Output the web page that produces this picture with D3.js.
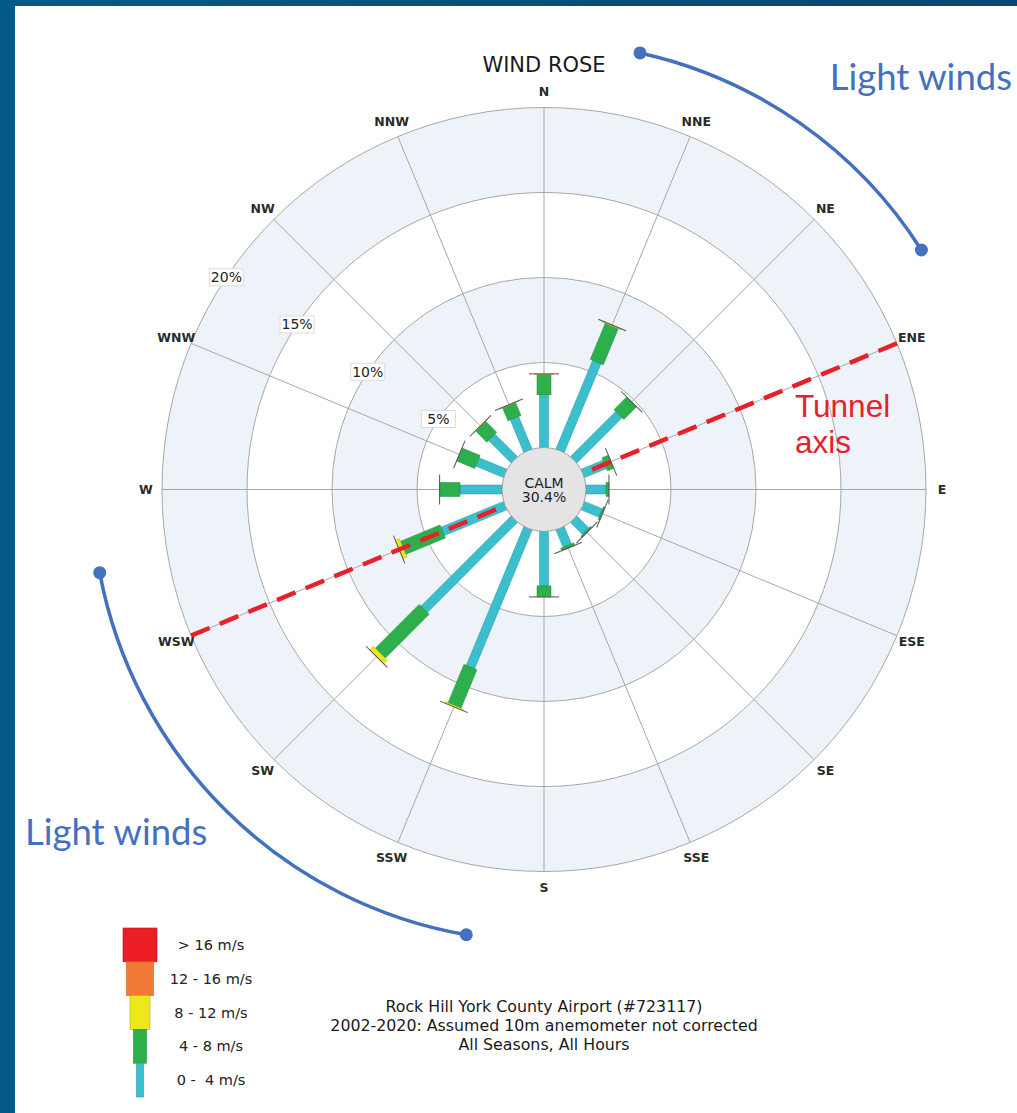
<!DOCTYPE html>
<html>
<head>
<meta charset="utf-8">
<script src="https://cdn.jsdelivr.net/npm/d3@7"></script>
<style>
  html, body { margin: 0; padding: 0; background: #ffffff; }
  svg { display: block; }
  text { font-family: "DejaVu Sans", Verdana, sans-serif; }
</style>
</head>
<body>
<svg id="chart" width="1017" height="1113"></svg>
<script>
// Compass sectors (clockwise from north)
const directions = ["N","NNE","NE","ENE","E","ESE","SE","SSE","S","SSW","SW","WSW","W","WNW","NW","NNW"];

// Frequency (% of hours) per speed class, one value per direction
const speed0to4   = [3.10, 5.65, 3.76, 1.40, 1.18, 1.15, 1.00, 1.10, 3.20, 8.84, 7.50, 3.98, 2.47, 1.77, 1.88, 2.07];
const speed4to8   = [1.20, 2.30, 1.06, 0.40, 0.17, 0.10, 0.10, 0.15, 0.65, 2.45, 3.65, 2.52, 1.20, 1.15, 0.92, 0.83];
const speed8to12  = [0.03, 0.05, 0.00, 0.00, 0.00, 0.00, 0.00, 0.00, 0.00, 0.08, 0.30, 0.25, 0.00, 0.00, 0.02, 0.03];
const speed12to16 = [0, 0, 0, 0, 0, 0, 0, 0, 0, 0, 0, 0, 0, 0, 0, 0];
const speedOver16 = [0, 0, 0, 0, 0, 0, 0, 0, 0, 0, 0, 0, 0, 0, 0, 0];

const speedClasses = ["0 -  4 m/s", "4 - 8 m/s", "8 - 12 m/s", "12 - 16 m/s", "> 16 m/s"];
const speedColors  = ["#3bbecd", "#2db04b", "#ece81c", "#f07a35", "#ec1d25"];
const speedEdges   = ["#2a9aa8", "#1f8d3a", "#b8b414", "#c85e20", "#b8141b"];

const calmPercent = 30.4;
const ringTicks = [5, 10, 15, 20];

const titleText = "WIND ROSE";
const footerLines = [
  "Rock Hill York County Airport (#723117)",
  "2002-2020: Assumed 10m anemometer not corrected",
  "All Seasons, All Hours"
];

// Layout
const W = 1017, H = 1113;
const cx = 544, cy = 489.5;
const calmR = 42, outerR = 382;
const barWidths = [9, 14, 20, 26, 32];

const svg = d3.select("#chart");

// Slide frame
const frameGrad = svg.append("defs").append("linearGradient")
  .attr("id", "frameGrad").attr("x1", "0").attr("x2", "1").attr("y1", "0").attr("y2", "0");
frameGrad.append("stop").attr("offset", "0").attr("stop-color", "#005b8b");
frameGrad.append("stop").attr("offset", "1").attr("stop-color", "#07476f");
svg.append("rect").attr("x", 0).attr("y", 0).attr("width", W).attr("height", 6).attr("fill", "url(#frameGrad)");
svg.append("rect").attr("x", 0).attr("y", 0).attr("width", 15).attr("height", H).attr("fill", "#005b8b");

// Radial scale: percent -> pixel radius (starting at the calm circle)
const r = d3.scaleLinear().domain([0, 20]).range([calmR, outerR]);
const angle = d3.scaleBand().domain(directions).range([0, 360]).align(0).padding(0);
const bearing = d => angle(d);  // band start = compass bearing (22.5° steps)

const rose = svg.append("g").attr("transform", `translate(${cx},${cy})`);

// Alternating ring bands
const bandEdges = [0, ...ringTicks];
for (let i = bandEdges.length - 1; i >= 1; i--) {
  rose.append("circle")
    .attr("r", r(bandEdges[i]))
    .attr("fill", i % 2 === 0 ? "#eef3f9" : "#ffffff");
}

// Grid circles
rose.selectAll("circle.grid").data(ringTicks).join("circle")
  .attr("class", "grid")
  .attr("r", d => r(d))
  .attr("fill", "none")
  .attr("stroke", "#a8a8a8")
  .attr("stroke-width", 1);

// Spokes
const toXY = (b, rad) => {
  const a = (b - 90) * Math.PI / 180;
  return [rad * Math.cos(a), rad * Math.sin(a)];
};
rose.selectAll("line.spoke").data(directions).join("line")
  .attr("class", "spoke")
  .attr("x1", d => toXY(bearing(d), r(0))[0])
  .attr("y1", d => toXY(bearing(d), r(0))[1])
  .attr("x2", d => toXY(bearing(d), r(20))[0])
  .attr("y2", d => toXY(bearing(d), r(20))[1])
  .attr("stroke", "#a8a8a8")
  .attr("stroke-width", 1);

// Direction labels
rose.selectAll("text.dir").data(directions).join("text")
  .attr("class", "dir")
  .attr("x", d => toXY(bearing(d), outerR + 16)[0])
  .attr("y", d => toXY(bearing(d), outerR + 16)[1])
  .attr("text-anchor", "middle")
  .attr("dominant-baseline", "central")
  .attr("font-size", 12.5)
  .attr("font-weight", "bold")
  .attr("fill", "#2a2a2a")
  .text(d => d);

// Stacked bars
const series = [speed0to4, speed4to8, speed8to12, speed12to16, speedOver16];
const rows = directions.map((d, i) => {
  let acc = 0;
  const segs = series.map((s, k) => {
    const seg = { k, start: acc, end: acc + s[i] };
    acc += s[i];
    return seg;
  });
  return { dir: d, segs, total: acc };
});

const bars = rose.selectAll("g.bar").data(rows).join("g")
  .attr("class", "bar")
  .attr("transform", d => `rotate(${bearing(d.dir)})`);

bars.selectAll("rect").data(d => d.segs.filter(s => s.end > s.start)).join("rect")
  .attr("x", s => -barWidths[s.k] / 2)
  .attr("width", s => barWidths[s.k])
  .attr("y", s => -r(s.end))
  .attr("height", s => r(s.end) - r(s.start))
  .attr("fill", s => speedColors[s.k])
  .attr("stroke", s => speedEdges[s.k])
  .attr("stroke-width", 0.5);

// End cap across each bar
bars.append("line")
  .attr("x1", -15).attr("x2", 15)
  .attr("y1", d => -r(d.total)).attr("y2", d => -r(d.total))
  .attr("stroke", "#555")
  .attr("stroke-width", 1);

// Tunnel axis (ENE – WSW)
const pA = toXY(bearing("ENE"), outerR), pB = toXY(bearing("WSW"), outerR);
rose.append("line")
  .attr("x1", pA[0]).attr("y1", pA[1])
  .attr("x2", pB[0]).attr("y2", pB[1])
  .attr("stroke", "#e8202a")
  .attr("stroke-width", 4.5)
  .attr("stroke-dasharray", "20 11");

// Calm circle
rose.append("circle")
  .attr("r", calmR)
  .attr("fill", "#e4e4e4")
  .attr("stroke", "#a0a0a0")
  .attr("stroke-width", 1);
rose.append("text").attr("x", 0).attr("y", -2).attr("text-anchor", "middle")
  .attr("font-size", 14).attr("fill", "#222").text("CALM");
rose.append("text").attr("x", 0).attr("y", 12).attr("text-anchor", "middle")
  .attr("font-size", 14).attr("fill", "#222").text(calmPercent.toFixed(1) + "%");

// Ring value labels along the WNW/NW mid-bearing
const labelBearing = 303.75;
const ringLabels = rose.selectAll("g.ringlabel").data(ringTicks).join("g")
  .attr("class", "ringlabel")
  .attr("transform", d => {
    const p = toXY(labelBearing, r(d));
    return `translate(${p[0]},${p[1]})`;
  });
ringLabels.append("rect")
  .attr("x", -17).attr("y", -8.5).attr("width", 34).attr("height", 17)
  .attr("fill", "#ffffff").attr("stroke", "#dcdcdc").attr("stroke-width", 1);
ringLabels.append("text")
  .attr("text-anchor", "middle").attr("dominant-baseline", "central")
  .attr("font-size", 14).attr("fill", "#222")
  .text(d => d + "%");

// Title
svg.append("text").attr("x", cx).attr("y", 72).attr("text-anchor", "middle")
  .attr("font-size", 21).attr("fill", "#1a1a1a").text(titleText);

// Legend
const legX = 140, legTop = 928, legStep = 33.8;
const legendOrder = d3.range(speedClasses.length).reverse();
const leg = svg.append("g");
leg.selectAll("rect").data(legendOrder).join("rect")
  .attr("x", k => legX - [7, 13, 20, 27, 34][k] / 2)
  .attr("width", k => [7, 13, 20, 27, 34][k])
  .attr("y", (k, i) => legTop + i * legStep)
  .attr("height", legStep)
  .attr("fill", k => speedColors[k])
  .attr("stroke", k => speedEdges[k])
  .attr("stroke-width", 0.6);
leg.selectAll("text").data(legendOrder).join("text")
  .attr("x", 211)
  .attr("y", (k, i) => legTop + i * legStep + legStep / 2 + 5)
  .attr("text-anchor", "middle")
  .attr("font-size", 14.5)
  .attr("fill", "#222")
  .style("white-space", "pre")
  .text(k => speedClasses[k]);

// Station footer
svg.selectAll("text.footer").data(footerLines).join("text")
  .attr("class", "footer")
  .attr("x", cx).attr("y", (d, i) => 1012 + i * 18.8)
  .attr("text-anchor", "middle")
  .attr("font-size", 15.8)
  .attr("fill", "#1a1a1a")
  .style("white-space", "pre")
  .text(d => d);

// "Light winds" arcs
const annBlue = "#4470c0";
function drawArc(b0, b1, rad) {
  const p = d3.path();
  p.arc(cx, cy, rad, (b0 - 90) * Math.PI / 180, (b1 - 90) * Math.PI / 180, false);
  svg.append("path").attr("d", p.toString())
    .attr("fill", "none").attr("stroke", annBlue).attr("stroke-width", 3.5);
  [b0, b1].forEach(b => {
    const q = toXY(b, rad);
    svg.append("circle").attr("cx", cx + q[0]).attr("cy", cy + q[1]).attr("r", 6.5).attr("fill", annBlue);
  });
}
drawArc(12.4, 57.6, 447);
drawArc(189.9, 259.4, 452);

svg.append("text").attr("x", 1012).attr("y", 90).attr("text-anchor", "end")
  .style("font-family", "Lato, 'Open Sans', sans-serif")
  .attr("font-size", 36.5).attr("fill", annBlue).text("Light winds");
svg.append("text").attr("x", 25).attr("y", 845).attr("text-anchor", "start")
  .style("font-family", "Lato, 'Open Sans', sans-serif")
  .attr("font-size", 36.5).attr("fill", annBlue).text("Light winds");

// Tunnel axis caption
svg.append("text").attr("x", 795).attr("y", 417)
  .style("font-family", "'Liberation Sans', Arial, sans-serif")
  .attr("font-size", 31.5).attr("fill", "#e8202a").text("Tunnel");
svg.append("text").attr("x", 795).attr("y", 453)
  .style("font-family", "'Liberation Sans', Arial, sans-serif")
  .attr("font-size", 31.5).attr("fill", "#e8202a").text("axis");
</script>
</body>
</html>
